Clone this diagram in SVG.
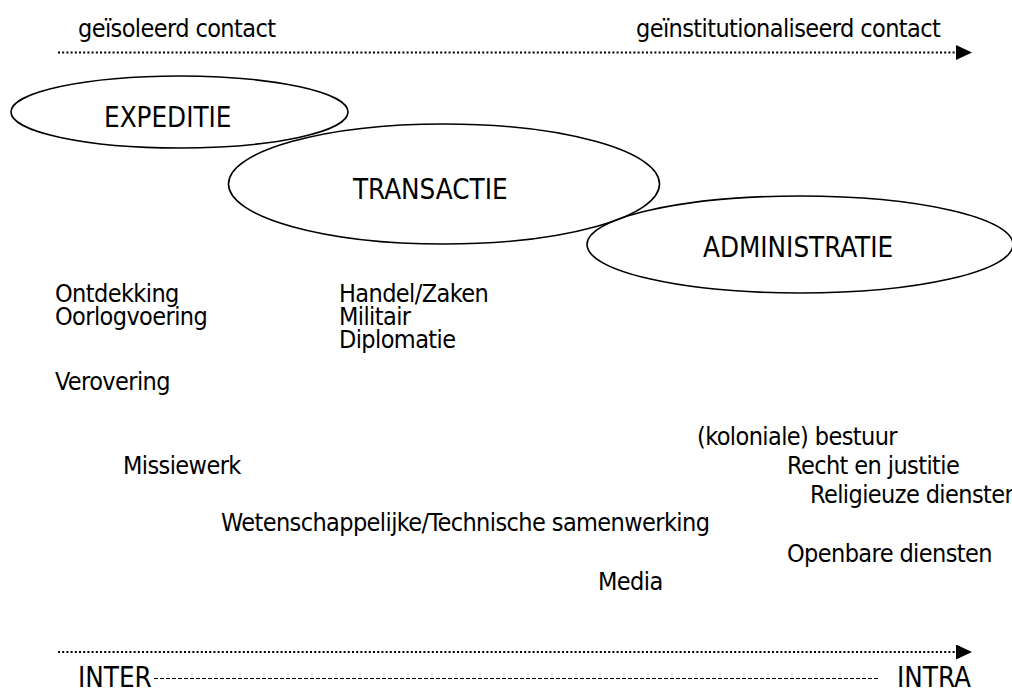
<svg xmlns="http://www.w3.org/2000/svg" width="1012" height="690" viewBox="0 0 1012 690">
<style>
text{font-family:"DejaVu Sans Condensed","DejaVu Sans",sans-serif;font-size:25px;letter-spacing:-0.6px;fill:#000}
text.cap{font-size:27.5px;letter-spacing:0}
.ell{fill:none;stroke:#000;stroke-width:1.6}
.dot{stroke:#000;stroke-width:2;stroke-dasharray:2 2.2;fill:none}
.dash{stroke:#000;stroke-width:1;stroke-dasharray:4 2;fill:none}
</style>
<defs>
<marker id="ah" viewBox="0 0 16 15" refX="0" refY="7.5" markerWidth="16" markerHeight="15" markerUnits="userSpaceOnUse" orient="auto">
<path d="M0,0 L16,7.5 L0,15 Z" fill="#000"/>
</marker>
</defs>
<rect width="1012" height="690" fill="#fff"/>
<g id="connectors">
<line class="dot" x1="58" y1="52.5" x2="956" y2="52.5" marker-end="url(#ah)"/>
<line class="dot" x1="58" y1="652" x2="956" y2="652" marker-end="url(#ah)"/>
<line class="dash" x1="154" y1="678.5" x2="880" y2="678.5"/>
</g>
<g id="axis-top-labels">
<text x="78" y="37">geïsoleerd contact</text>
<text x="636" y="37">geïnstitutionaliseerd contact</text>
</g>
<g id="expeditie">
<ellipse class="ell" cx="179.5" cy="112" rx="168.5" ry="36"/>
<text class="cap" x="104" y="127">EXPEDITIE</text>
</g>
<g id="transactie">
<ellipse class="ell" cx="444" cy="184" rx="215.5" ry="60"/>
<text class="cap" x="353" y="199">TRANSACTIE</text>
</g>
<g id="administratie">
<ellipse class="ell" cx="800" cy="244.5" rx="213" ry="48.5"/>
<text class="cap" x="703" y="257">ADMINISTRATIE</text>
</g>
<g id="expeditie-items">
<text x="55" y="302">Ontdekking</text>
<text x="55" y="325">Oorlogvoering</text>
<text x="55" y="390">Verovering</text>
</g>
<g id="transactie-items">
<text x="339" y="302">Handel/Zaken</text>
<text x="339" y="325">Militair</text>
<text x="339" y="348">Diplomatie</text>
</g>
<g id="middle-items">
<text x="123" y="474">Missiewerk</text>
<text x="221" y="531">Wetenschappelijke/Technische samenwerking</text>
<text x="598" y="590">Media</text>
</g>
<g id="administratie-items">
<text x="697" y="445">(koloniale) bestuur</text>
<text x="787" y="474">Recht en justitie</text>
<text x="810" y="503">Religieuze diensten</text>
<text x="787" y="562">Openbare diensten</text>
</g>
<g id="axis-bottom-labels">
<text class="cap" x="78" y="687">INTER</text>
<text class="cap" x="897" y="687">INTRA</text>
</g>
</svg>
